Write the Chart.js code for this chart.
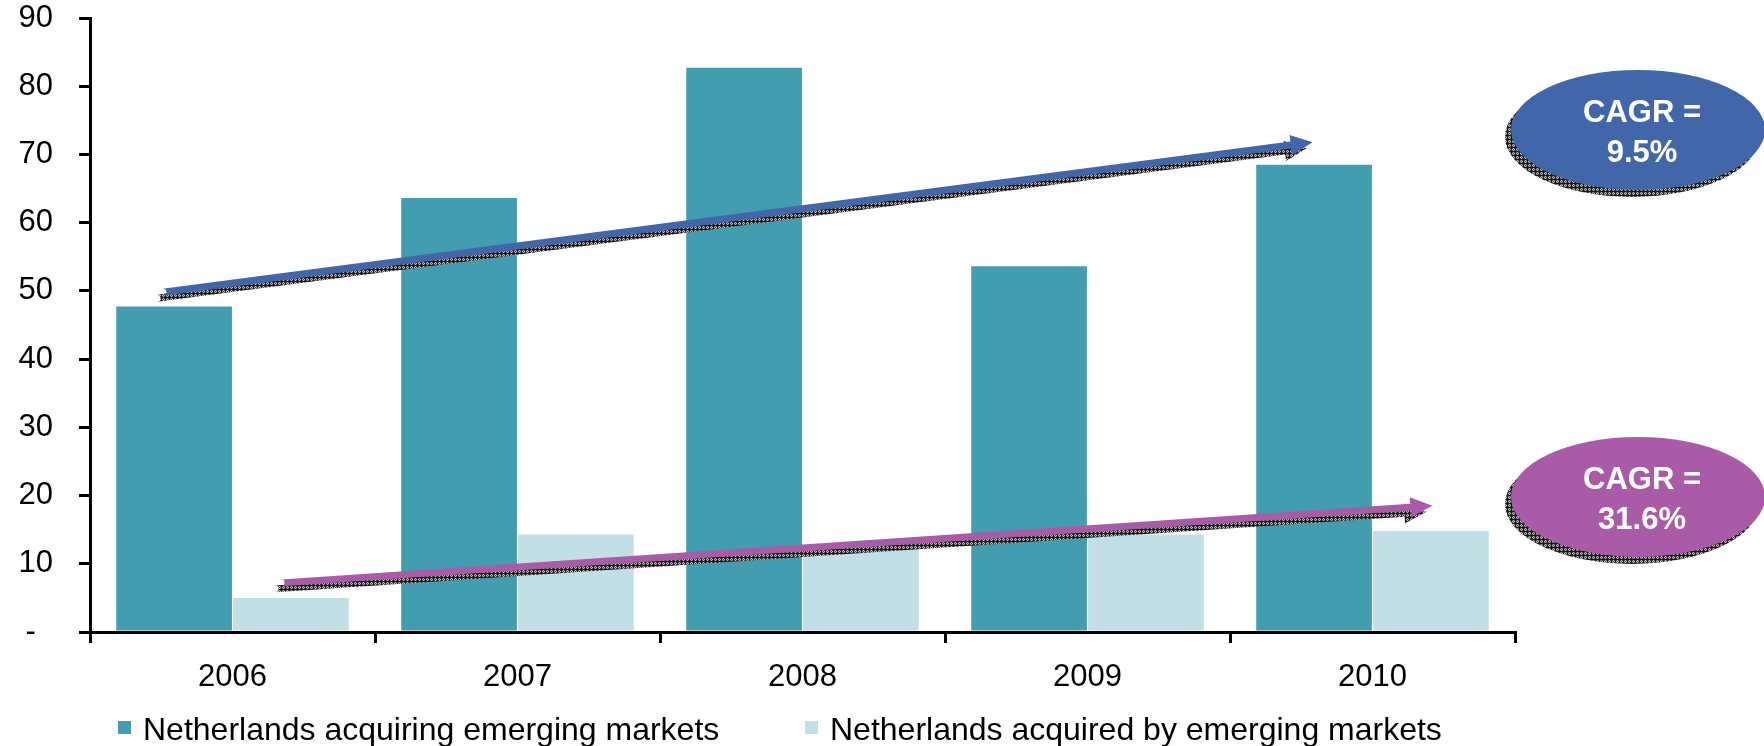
<!DOCTYPE html>
<html>
<head>
<meta charset="utf-8">
<script src="https://cdn.jsdelivr.net/npm/chart.js@4.4.1/dist/chart.umd.min.js"></script>
<style>
  html, body { margin: 0; padding: 0; background: #ffffff; }
  #wrap { width: 1764px; height: 746px; position: relative; }
</style>
</head>
<body>
<div id="wrap"><canvas id="c" width="1764" height="746"></canvas></div>
<script>
// ---- data ----
const categories = ['2006', '2007', '2008', '2009', '2010'];
const acquiringValues = [47.7, 63.6, 82.7, 53.6, 68.5];
const acquiredValues = [5.0, 14.3, 12.2, 14.3, 14.8];
const seriesNames = ['Netherlands acquiring emerging markets', 'Netherlands acquired by emerging markets'];
const yTickValues = [0, 10, 20, 30, 40, 50, 60, 70, 80, 90];

// trend arrows: [startIndex, startValue, endIndex, endValue]
const blueArrow = [-0.244, 49.8, 3.79, 71.8];
const purpleArrow = [0.17, 7.2, 4.21, 18.5];
// CAGR callouts: value position (y) of ellipse centre, and label lines
const blueCagrY = 73.6;
const purpleCagrY = 19.8;
const blueCagrText = ['CAGR =', '9.5%'];
const purpleCagrText = ['CAGR =', '31.6%'];

const COLOR_DARK = '#419DAF';
const COLOR_LIGHT = '#C1DFE4';
const COLOR_BLUE = '#4166A9';
const COLOR_PURPLE = '#A95BA8';
const FONT = '"Liberation Sans", Arial, Helvetica, sans-serif';

Chart.defaults.font.family = FONT;
Chart.defaults.color = '#000';

function makePattern(ctx) {
  const p = document.createElement('canvas');
  p.width = 4; p.height = 4;
  const pc = p.getContext('2d');
  pc.fillStyle = '#b8b8b8';
  pc.fillRect(0, 0, 4, 4);
  pc.fillStyle = '#4a4a4a';
  pc.fillRect(0, 0, 1, 1); pc.fillRect(2, 0, 1, 1);
  pc.fillRect(1, 1, 1, 1); pc.fillRect(3, 1, 1, 1);
  pc.fillRect(0, 2, 1, 1); pc.fillRect(2, 2, 1, 1);
  pc.fillRect(1, 3, 1, 1); pc.fillRect(3, 3, 1, 1);
  pc.fillStyle = '#1a1a1a';
  pc.fillRect(0, 3, 4, 1);
  pc.fillRect(3, 0, 1, 4);
  return ctx.createPattern(p, 'repeat');
}

function arrowPath(ctx, x1, y1, x2, y2, lw, headLen, headHalf) {
  const dx = x2 - x1, dy = y2 - y1;
  const len = Math.hypot(dx, dy);
  const ux = dx / len, uy = dy / len;
  const nx = -uy, ny = ux;
  const bx = x2 - ux * headLen, by = y2 - uy * headLen;
  const h = lw / 2;
  ctx.beginPath();
  ctx.moveTo(x1 + nx * h, y1 + ny * h);
  ctx.lineTo(bx + nx * h, by + ny * h);
  ctx.lineTo(bx + nx * headHalf, by + ny * headHalf);
  ctx.lineTo(x2, y2);
  ctx.lineTo(bx - nx * headHalf, by - ny * headHalf);
  ctx.lineTo(bx - nx * h, by - ny * h);
  ctx.lineTo(x1 - nx * h, y1 - ny * h);
  ctx.arc(x1, y1, h, Math.atan2(-ny, -nx), Math.atan2(ny, nx), false);
  ctx.closePath();
}

function drawArrow(chart, spec, color, pattern) {
  const ctx = chart.ctx;
  const xs = chart.scales.x, ys = chart.scales.y;
  const x1 = xs.getPixelForValue(spec[0]), y1 = ys.getPixelForValue(spec[1]);
  const x2 = xs.getPixelForValue(spec[2]), y2 = ys.getPixelForValue(spec[3]);
  ctx.save();
  ctx.translate(-6, 6);
  arrowPath(ctx, x1, y1, x2, y2, 7, 22, 10);
  ctx.fillStyle = pattern;
  ctx.fill();
  ctx.restore();
  ctx.save();
  arrowPath(ctx, x1, y1, x2, y2, 7, 22, 10);
  ctx.fillStyle = color;
  ctx.fill();
  ctx.restore();
}

function drawCallout(chart, yValue, lines, color, pattern) {
  const ctx = chart.ctx;
  const cx = chart.chartArea.right + 123;
  const cy = chart.scales.y.getPixelForValue(yValue);
  const rx = 127, ry = 60;
  ctx.save();
  ctx.beginPath();
  ctx.ellipse(cx - 6, cy + 7, rx, ry, 0, 0, Math.PI * 2);
  ctx.fillStyle = pattern;
  ctx.fill();
  ctx.beginPath();
  ctx.ellipse(cx, cy, rx, ry, 0, 0, Math.PI * 2);
  ctx.fillStyle = color;
  ctx.fill();
  ctx.fillStyle = '#fff';
  ctx.font = 'bold 31px ' + FONT;
  ctx.textAlign = 'center';
  ctx.textBaseline = 'middle';
  ctx.fillText(lines[0], cx + 4, cy - 16);
  ctx.fillText(lines[1], cx + 4, cy + 24);
  ctx.restore();
}

const overlayPlugin = {
  id: 'overlay',
  afterDatasetsDraw(chart) {
    const pattern = makePattern(chart.ctx);
    drawArrow(chart, blueArrow, COLOR_BLUE, pattern);
    drawArrow(chart, purpleArrow, COLOR_PURPLE, pattern);
    drawCallout(chart, blueCagrY, blueCagrText, COLOR_BLUE, pattern);
    drawCallout(chart, purpleCagrY, purpleCagrText, COLOR_PURPLE, pattern);
  },
  afterDraw(chart) {
    const ctx = chart.ctx;
    const ds = chart.data.datasets;
    const starts = [118, 805];
    const yc = 729;
    ctx.save();
    ctx.font = '32px ' + FONT;
    ctx.textBaseline = 'middle';
    ctx.textAlign = 'left';
    ds.forEach((d, i) => {
      const x = starts[i];
      ctx.fillStyle = d.backgroundColor;
      ctx.fillRect(x, yc - 8, 13, 13);
      ctx.fillStyle = '#000';
      ctx.fillText(d.label, x + 25, yc + 2);
    });
    ctx.restore();
  }
};

new Chart(document.getElementById('c'), {
  type: 'bar',
  data: {
    labels: categories,
    datasets: [
      { label: seriesNames[0], data: acquiringValues, backgroundColor: COLOR_DARK,
        categoryPercentage: 0.82, barPercentage: 0.99 },
      { label: seriesNames[1], data: acquiredValues, backgroundColor: COLOR_LIGHT,
        categoryPercentage: 0.82, barPercentage: 0.99 }
    ]
  },
  options: {
    responsive: false,
    animation: false,
    layout: { padding: { left: 18, right: 249, top: 1, bottom: 59 } },
    plugins: { legend: { display: false }, tooltip: { enabled: false } },
    scales: {
      x: {
        offset: true,
        grid: { offset: true, drawOnChartArea: false, drawTicks: true, tickLength: 11, color: '#000', lineWidth: 3 },
        border: { color: '#000', width: 3 },
        ticks: { font: { size: 31 }, color: '#000', padding: 16, maxRotation: 0 },
        afterFit(scale) { scale.height = 55; scale.paddingLeft = 0; scale.paddingRight = 0; }
      },
      y: {
        min: 0, max: 90,
        afterBuildTicks(scale) { scale.ticks = yTickValues.map(v => ({ value: v })); },
        grid: { drawOnChartArea: false, drawTicks: true, tickLength: 11, color: '#000', lineWidth: 3 },
        border: { color: '#000', width: 3 },
        ticks: {
          font: { size: 31 }, color: '#000', padding: 26,
          callback: (v) => v === 0 ? '-  ' : String(v)
        },
        afterFit(scale) { scale.width = 72; scale.paddingTop = 18; scale.paddingBottom = 0; }
      }
    }
  },
  plugins: [overlayPlugin]
});
</script>
</body>
</html>
